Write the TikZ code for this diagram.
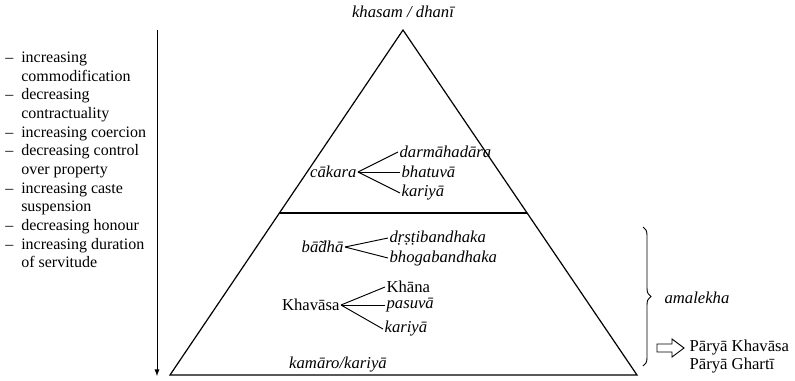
\documentclass[tikz,border=0pt]{standalone}
\usepackage{fontspec}
\setmainfont{Liberation Serif}
\usetikzlibrary{calc,decorations.pathreplacing}
\begin{document}
\fontsize{12}{14}\selectfont
\begin{tikzpicture}[x=0.75pt,y=-0.75pt,
    lbl/.style={font=\fontsize{12.5}{14}\selectfont\itshape,inner sep=1pt},
    up/.style={font=\fontsize{12.5}{14}\selectfont,inner sep=1pt},
    twig/.style={line width=0.7pt}]
  \useasboundingbox (0,0) rectangle (795,380);
  % pyramid
  \coordinate (top) at (403,30);
  \coordinate (bl) at (170,375);
  \coordinate (br) at (637,375);
  \draw[line width=0.9pt] (top) -- (bl) -- (br) -- cycle;
  \coordinate (ml) at ($(top)!0.5304!(bl)$);
  \coordinate (mr) at ($(top)!0.5304!(br)$);
  \draw[line width=0.9pt] (ml) -- (mr);
  \node[lbl] (owner) at (403,12) {khasam / dhanī};
  % scale on the left
  \coordinate (stop) at (157,30);
  \coordinate (sbot) at (157,376);
  \draw[-latex,line width=0.7pt] (stop) -- (sbot);
  \node[anchor=north west,inner sep=0pt] (traits) at (5,49) {%
    \begin{tabular}{@{}l@{\hspace{6pt}}l@{}}
      – & increasing\\
        & commodification\\
      – & decreasing\\
        & contractuality\\
      – & increasing coercion\\
      – & decreasing control\\
        & over property\\
      – & increasing caste\\
        & suspension\\
      – & decreasing honour\\
      – & increasing duration\\
        & of servitude
    \end{tabular}};
  % upper part
  \node[lbl,anchor=east] (cakara) at (358,172) {cākara};
  \node[lbl,anchor=west] (darma) at (398,152) {darmāhadāra};
  \node[lbl,anchor=west] (bhatuva) at (400,172) {bhatuvā};
  \node[lbl,anchor=west] (kariyaA) at (400,193) {kariyā};
  \draw[twig] (cakara.east) -- (darma.west);
  \draw[twig] (cakara.east) -- (bhatuva.west);
  \draw[twig] (cakara.east) -- (kariyaA.west);
  % lower part
  \node[lbl,anchor=east] (badha) at (345,247) {bā̃dhā};
  \node[lbl,anchor=west] (drsti) at (388,238) {dṛṣṭibandhaka};
  \node[lbl,anchor=west] (bhoga) at (388,258) {bhogabandhaka};
  \draw[twig] (badha.east) -- (drsti.west);
  \draw[twig] (badha.east) -- (bhoga.west);
  \node[up,anchor=east] (khavasa) at (341,305) {Khavāsa};
  \node[up,anchor=west] (khana) at (385,287) {Khāna};
  \node[lbl,anchor=west] (pasuva) at (385,305) {pasuvā};
  \node[lbl,anchor=west] (kariyaB) at (383,329) {kariyā};
  \draw[twig] (khavasa.east) -- (khana.west);
  \draw[twig] (khavasa.east) -- (pasuva.west);
  \draw[twig] (khavasa.east) -- (kariyaB.west);
  \node[lbl] (kamaro) at (338,365) {kamāro/kariyā};
  % right side
  \coordinate (btop) at (643,227);
  \coordinate (bbot) at (643,366);
  \draw[line width=0.7pt,decorate,decoration={brace,amplitude=6pt}] (btop) -- (bbot);
  \node[lbl,anchor=west] (amalekha) at (663,298) {amalekha};
  \draw[line width=0.7pt] (657,344) -- (672,344) -- (672,339) -- (684,348)
    -- (672,357) -- (672,352) -- (657,352) -- cycle;
  \node[up,anchor=west] (parya1) at (688,348) {Pāryā Khavāsa};
  \node[up,anchor=west] (parya2) at (688,366) {Pāryā Ghartī};
\end{tikzpicture}
\end{document}
